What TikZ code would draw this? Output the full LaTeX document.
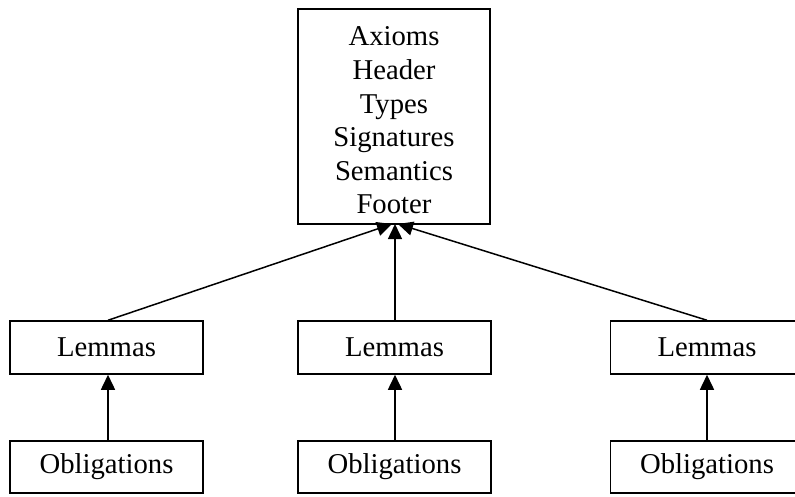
\documentclass[tikz,border=0pt]{standalone}
\usepackage{fontspec}
\setmainfont{Liberation Serif}
\usetikzlibrary{arrows.meta}
\begin{document}
\begin{tikzpicture}[x=1pt,y=-1pt,
  box/.style={draw=black,line width=1.5pt,rectangle,inner sep=0pt,align=center,
    font=\fontsize{28.7}{33.6}\selectfont},
  lembox/.style={box,minimum width=193pt,minimum height=53pt},
  oblbox/.style={box,minimum width=193pt,minimum height=52pt},
  edge/.style={draw=black,line width=1.5pt,-{Triangle[length=15pt,width=14pt]}}]
\useasboundingbox (0,0) rectangle (795,496);
\clip (0,0) rectangle (795,496);
\node[box,minimum width=192pt,minimum height=215pt] (top) at (394,116.5) {};
\node[align=center,inner sep=0pt,font=\fontsize{28.7}{33.6}\selectfont] (toptext) at (394,120.5)
  {Axioms\\Header\\Types\\Signatures\\Semantics\\Footer};
\node[lembox] (l1) at (106.5,347.5) {Lemmas};
\node[lembox] (l2) at (394.5,347.5) {Lemmas};
\node[lembox] (l3) at (707,347.5) {Lemmas};
\node[oblbox] (o1) at (106.5,467) {Obligations};
\node[oblbox] (o2) at (394.5,467) {Obligations};
\node[oblbox] (o3) at (707,467) {Obligations};
\coordinate (t1) at (392,224);
\coordinate (t2) at (395,224);
\coordinate (t3) at (398,224);
\draw[edge] (l1.north) ++(1.5,0) -- (t1);
\draw[edge] (l2.north) ++(0.5,0) -- (t2);
\draw[edge] (l3.north) -- (t3);
\draw[edge] (o1.north) ++(1.5,0) -- ([xshift=1.5pt]l1.south);
\draw[edge] (o2.north) ++(0.5,0) -- ([xshift=0.5pt]l2.south);
\draw[edge] (o3.north) -- (l3.south);
\end{tikzpicture}
\end{document}
